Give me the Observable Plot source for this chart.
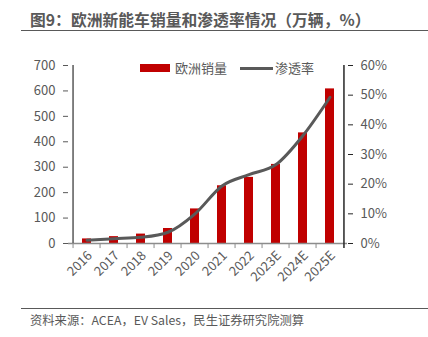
<!DOCTYPE html>
<html><head><meta charset="utf-8">
<script src="https://cdn.jsdelivr.net/npm/d3@7"></script>
<script src="https://cdn.jsdelivr.net/npm/@observablehq/plot@0.6"></script>
<style>
body{margin:0;background:#fff;font-family:"Noto Sans CJK SC","Noto Sans",sans-serif;}
#wrap{position:relative;width:428px;height:337px;overflow:hidden;background:#fff;}
#title{position:absolute;left:30px;top:10px;font-size:15.8px;font-weight:bold;color:#595959;white-space:nowrap;line-height:20px;}
#tline{position:absolute;left:21px;width:407px;top:30px;height:0;border-top:1.5px solid #595959;}
#chart{position:absolute;left:0;top:40px;}
#cline{position:absolute;left:21px;width:407px;top:308px;height:0;border-top:1.5px solid #595959;}
#caption{position:absolute;left:30px;top:312px;font-size:12.3px;color:#595959;white-space:nowrap;line-height:16px;}
.lg{position:absolute;font-size:13px;color:#595959;line-height:16px;white-space:nowrap;}
</style></head>
<body>
<div id="wrap">
  <div id="title">图9：欧洲新能车销量和渗透率情况（万辆，%）</div>
  <div id="tline"></div>
  <div id="chart"></div>
  <div style="position:absolute;left:140px;top:64px;width:30px;height:8px;background:#C00000;"></div>
  <div class="lg" style="left:175px;top:60px;">欧洲销量</div>
  <div style="position:absolute;left:240px;top:67px;width:33px;height:3px;background:#595959;"></div>
  <div class="lg" style="left:275px;top:60px;">渗透率</div>
  <div id="cline"></div>
  <div id="caption">资料来源：ACEA，EV Sales，民生证券研究院测算</div>
</div>
<script>
const years = ["2016","2017","2018","2019","2020","2021","2022","2023E","2024E","2025E"];
const sales = [18, 27, 37, 59, 136, 227, 260, 311, 435, 608];
const penetration = [1.1, 1.6, 2.1, 3.8, 10.0, 19.4, 23.2, 26.6, 36.4, 49.3];
const salesTicks = [0,100,200,300,400,500,600,700];
const rateTicks = [0,10,20,30,40,50,60];

const W = 428, H = 265, mL = 68, mR = 81, mT = 25, mB = 62;
const step = (W - mL - mR) / years.length;
const k = 700 / 60;
const data = years.map((year, i) => ({year, sales: sales[i], rate: penetration[i]}));

const plot = Plot.plot({
  width: W, height: H, marginLeft: mL, marginRight: mR, marginTop: mT, marginBottom: mB,
  style: {fontFamily: '"Noto Sans CJK SC","Noto Sans",sans-serif', fontSize: "13px", color: "#595959", background: "transparent"},
  x: {domain: years, padding: 0, label: null},
  y: {domain: [0, 700], label: null},
  marks: [
    Plot.barY(data, {x: "year", y: "sales", fill: "#C00000", insetLeft: 9, insetRight: 9}),
    Plot.ruleY([0], {stroke: "#8c8c8c", strokeWidth: 1.5}),
    Plot.ruleX(years, {x: d => d, y1: 0, y2: -20, dx: -step / 2, stroke: "#8c8c8c"}),
    Plot.ruleX([years[0]], {x: d => d, y1: 0, y2: 700, dx: -step / 2, stroke: "#595959", strokeWidth: 1.5}),
    Plot.ruleX([years[years.length - 1]], {x: d => d, y1: -20, y2: 700, dx: step / 2, stroke: "#262626", strokeWidth: 1.5}),
    Plot.axisY({anchor: "left", ticks: salesTicks, tickSize: 5, tickPadding: 8, stroke: "#595959", fill: "#595959", fontSize: 13, label: null}),
    Plot.axisY({anchor: "right", ticks: rateTicks.map(v => v * k), tickFormat: d => Math.round(d / k) + "%", tickSize: 5, tickPadding: 8, stroke: "#262626", fill: "#595959", fontSize: 13, label: null}),
    Plot.line(data, {x: "year", y: d => d.rate * k, stroke: "#595959", strokeWidth: 3, curve: "monotone-x"}),
    Plot.axisX({tickSize: 0, tickRotate: -45, tickPadding: 10, dx: 3, fill: "#595959", fontSize: 13, label: null})
  ]
});
document.getElementById("chart").appendChild(plot);
</script>
</body></html>
